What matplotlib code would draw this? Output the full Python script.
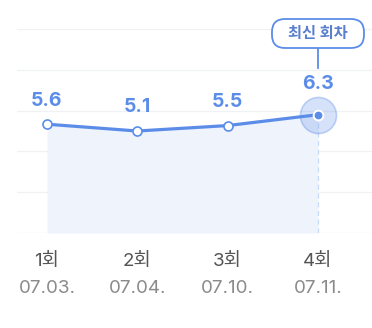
import numpy as np
import matplotlib.pyplot as plt
from matplotlib.patches import FancyBboxPatch
from matplotlib.transforms import blended_transform_factory

# 회차별 점수
rounds = ['1회', '2회', '3회', '4회']
dates = ['07.03.', '07.04.', '07.10.', '07.11.']
scores = [5.6, 5.1, 5.5, 6.3]
latest_label = '최신 회차'

FONT = ['Inter', 'Noto Sans CJK KR', 'DejaVu Sans']
BLUE = '#5b8de8'
FILL = '#eef3fc'

x = np.arange(len(scores))
y_lo, y_hi = -2.4, 12.6

fig = plt.figure(figsize=(3.72, 3.28), dpi=100)
ax = fig.add_axes([0.0457, 0.2896, 0.9543, 0.622])
ax.set_xlim(-0.332, 3.598)
ax.set_ylim(y_lo, y_hi)
ax.axis('off')

# 가로 그리드
for i, gy in enumerate(np.linspace(y_lo, y_hi, 6)):
    ax.axhline(gy, color='#e4e8ed' if i == 0 else '#eff1f4', lw=0.9, zorder=0)

# 영역 채우기 + 라인
ax.fill_between(x, scores, y_lo, color=FILL, lw=0, zorder=1)
ax.plot([x[-1], x[-1]], [y_lo, scores[-1]], color='#c9daf6', lw=0.9,
        ls=(0, (4, 3)), zorder=2)
ax.plot(x, scores, color=BLUE, lw=2.3, zorder=3, solid_capstyle='round')
ax.plot(x[:-1], scores[:-1], 'o', ms=6.5, mfc='white', mec=BLUE, mew=1.2, zorder=4)

# 최신 회차 강조
ax.plot(x[-1], scores[-1], 'o', ms=26, mfc=(0.36, 0.55, 0.91, 0.25),
        mec=(0.36, 0.55, 0.91, 0.35), mew=1.2, zorder=4)
ax.plot(x[-1], scores[-1], 'o', ms=7, mfc=BLUE, mec='white', mew=1.4, zorder=5)

# 값 라벨
for xi, v in zip(x, scores):
    off = 22 if xi == x[-1] else 17
    ax.annotate(f'{v:.1f}', (xi, v), xytext=(0, off), textcoords='offset points',
                ha='center', va='center', fontsize=14, fontweight='bold',
                color=BLUE, family=FONT, zorder=6)

# x축 라벨 (회차 / 날짜)
tr = blended_transform_factory(ax.transData, ax.transAxes)
for xi, r, d in zip(x, rounds, dates):
    ax.text(xi, -0.142, r, transform=tr, ha='center', va='center',
            fontsize=13.5, color='#555555', family=FONT)
    ax.text(xi, -0.27, d, transform=tr, ha='center', va='center',
            fontsize=13.5, color='#8a8a8a', family=FONT)

# 말풍선
cx = ax.transData.transform((x[-1], 0))[0] / fig.dpi
box = FancyBboxPatch((cx - 0.46, 3.28 - 0.48), 0.92, 0.29,
                     boxstyle='round,pad=0,rounding_size=0.13',
                     transform=fig.dpi_scale_trans, fc='white', ec=BLUE,
                     lw=1.3, zorder=7)
fig.add_artist(box)
fig.text(cx, 3.28 - 0.335, latest_label, transform=fig.dpi_scale_trans,
         ha='center', va='center', fontsize=11, fontweight='bold',
         color='#5a7fcc', family=FONT, zorder=8)
fig.add_artist(plt.Line2D([cx, cx], [3.28 - 0.48, 3.28 - 0.68],
                          transform=fig.dpi_scale_trans, color=BLUE, lw=1.3))

fig.savefig('out.png', dpi=100)
